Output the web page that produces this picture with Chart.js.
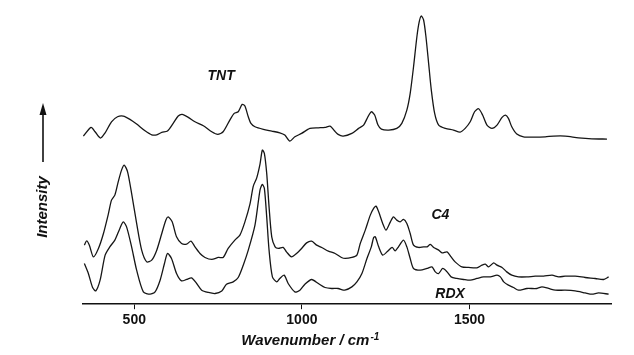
<!DOCTYPE html>
<html>
<head>
<meta charset="utf-8">
<script src="https://cdn.jsdelivr.net/npm/chart.js@4.4.1/dist/chart.umd.min.js"></script>
<style>
  html, body { margin: 0; padding: 0; background: #fff; }
  #c { display: block; }
</style>
</head>
<body>
<canvas id="c" width="634" height="355"></canvas>
<script>
// ---- data (wavenumber in cm-1, intensity in arbitrary offset units) ----
const tntWavenumber = [348,371,383,399,413,432,450,467,487,507,532,552,567,582,599,616,631,643,661,681,706,731,749,765,785,798,810,822,830,840,848,860,885,910,934,949,964,979,999,1024,1049,1069,1084,1097,1108,1123,
  1149,1169,1184,1197,1207,1217,1227,1237,1259,1283,1298,1313,1323,1333,1343,1350,1356,1363,1370,1378,1386,1396,1408,1428,1452,1472,1487,1502,1515,1527,1539,1552,1567,1582,1597,1607,1616,1626,1641,1661,1696,1726,1751,1785,1825,1865,1910];
const tntIntensity = [168,176.7,172.3,166,171.3,182.3,187.3,188,184.7,180,173.3,169.3,169.3,171.7,173,180.7,188,189.7,186.7,182.3,178.3,172.3,169.7,172.3,184,190.7,192.3,199.7,198,187.3,180.7,177.3,174.7,173,171.3,169,163,167.3,170.7,175.7,176.3,176.7,178,173.3,169.7,168,
  170.7,175.7,179,187.3,192.3,189,179,175,174,175.7,180.7,194,210.7,237.3,267.3,282.3,288,284,267.3,240.7,214,190.7,179,175.7,174,172,175.7,182.3,192.3,195.3,189,179,175.7,179,186.7,189,185.7,177.3,170,167.3,167,167.3,168,168,166.3,165.3,165];

const c4Wavenumber = [351,358,366,378,393,408,423,432,442,452,462,470,480,492,507,522,537,552,567,582,594,601,613,626,641,656,669,681,696,711,731,751,765,780,800,815,830,845,855,865,875,882,888,895,902,910,920,930,944,954,969,984,999,1014,1029,1044,1059,1079,1099,1118,
  1129,1149,1164,1174,1189,1204,1214,1221,1229,1241,1251,1264,1273,1283,1293,1303,1313,1323,1333,1348,1363,1373,1383,1393,1408,1418,1433,1445,1457,1477,1497,1522,1537,1547,1557,1572,1582,1597,1611,1626,1646,1671,1696,1721,1746,1766,1785,1815,1845,1875,1900,1915];
const c4Intensity = [59,63.3,59,47.3,55.7,70.7,90.7,104,109,122.3,134,139,132.3,110.7,80.7,54,42.3,44,54,70.7,84,87.3,82.3,67.3,60.7,60,63,57.3,50.7,46.7,44.7,46.7,46.7,55.7,64,69,82.3,100,118,126,140,154,150.7,130.7,97.3,67.3,57.3,55.7,56.7,52.3,47.3,50.7,55.7,61.3,63,59,56.7,53,50.7,46.7,
  45.7,46.7,49,60.7,74,89,95.7,98,92.3,80.7,74,82.3,87.3,84,82.3,84.7,80.7,70.7,59,56.7,57.3,57.3,59.7,56.7,54,51.3,52.3,47.3,42.3,37.3,36.7,36.3,39,40,37.3,41.3,39,36.7,32.3,29,27.3,27.3,28,28,29,27.3,28,28,26.7,25.7,24.7,27.3];

const rdxWavenumber = [351,363,375,385,398,413,427,442,457,467,477,492,507,527,547,562,577,590,599,611,626,641,656,671,686,701,721,741,761,775,795,810,825,840,860,875,882,888,895,902,912,925,934,947,959,979,994,1009,1029,1049,1069,1089,1108,1128,
  1149,1164,1179,1194,1207,1214,1219,1229,1241,1254,1269,1278,1288,1303,1313,1323,1333,1353,1373,1388,1398,1408,1420,1433,1445,1462,1482,1502,1522,1542,1562,1582,1592,1602,1616,1631,1646,1671,1701,1716,1736,1756,1785,1815,1845,1865,1885,1915];
const rdxIntensity = [40.7,30.7,17.3,13.3,24,49,57.3,64,75.7,82.3,77.3,57.3,34,12.3,10,12.3,24,40.7,50.7,45.7,30.7,23.3,24.7,26.3,20.7,14,11.7,10.7,13.3,20,22.3,26.7,39,54,79,114,119.7,115.7,87.3,54,27.3,22.3,25.7,29,20.7,12.3,14,20,24.7,20.7,16.7,15.7,15.7,14,
  17.3,22.3,30.7,45.7,57.3,66.7,67.3,57.3,49,52.3,56.7,53.3,57.3,64,57.3,45.7,35.7,34,35.7,37.3,32.3,30.7,35.7,32.3,27.3,25.7,24.7,24,25.7,27.3,27.3,29,27.3,22.3,19,16.7,14,15.7,15.7,17.3,15.7,14,14,13.3,11.3,10,11.3,10];

const xTickValues = [500, 1000, 1500];
const seriesNames = ['TNT', 'C4', 'RDX'];
// label anchor points in data units (wavenumber, intensity)
const labelWavenumber = [759, 1413, 1442];
const labelIntensity = [228, 89, 10];

const xAxisTitle = 'Wavenumber / cm';
const xAxisTitleSup = '-1';
const yAxisTitle = 'Intensity';

function pairs(xs, ys) { return xs.map((x, i) => ({ x: x, y: ys[i] })); }

const lineStyle = { borderColor: '#161616', borderWidth: 1.3, pointRadius: 0, tension: 0.25, fill: false };

const decorPlugin = {
  id: 'decor',
  afterDraw(chart) {
    const ctx = chart.ctx;
    const xs = chart.scales.x, ys = chart.scales.y;
    ctx.save();
    ctx.fillStyle = '#111';
    // series labels
    ctx.font = 'italic bold 14px "Liberation Sans", Arial, sans-serif';
    ctx.textAlign = 'center';
    ctx.textBaseline = 'middle';
    seriesNames.forEach((n, i) => {
      ctx.fillText(n, xs.getPixelForValue(labelWavenumber[i]), ys.getPixelForValue(labelIntensity[i]));
    });
    // x axis title with superscript
    const ca = chart.chartArea;
    ctx.font = 'italic bold 15px "Liberation Sans", Arial, sans-serif';
    const w1 = ctx.measureText(xAxisTitle).width;
    ctx.font = 'italic bold 10px "Liberation Sans", Arial, sans-serif';
    const w2 = ctx.measureText(xAxisTitleSup).width;
    const cx = xs.getPixelForValue(1025);
    const ty = ca.bottom + 37;
    const sx = cx - (w1 + w2 + 1) / 2;
    ctx.textAlign = 'left';
    ctx.font = 'italic bold 15px "Liberation Sans", Arial, sans-serif';
    ctx.fillText(xAxisTitle, sx, ty);
    ctx.font = 'italic bold 10px "Liberation Sans", Arial, sans-serif';
    ctx.fillText(xAxisTitleSup, sx + w1 + 1, ty - 4);
    // y axis: arrow and rotated label
    const ax = ca.left - 40;
    ctx.strokeStyle = '#111';
    ctx.lineWidth = 1.6;
    ctx.beginPath();
    ctx.moveTo(ax, 162);
    ctx.lineTo(ax, 112);
    ctx.stroke();
    ctx.beginPath();
    ctx.moveTo(ax, 103);
    ctx.lineTo(ax - 3.5, 115);
    ctx.lineTo(ax + 3.5, 115);
    ctx.closePath();
    ctx.fill();
    ctx.translate(ax, 207);
    ctx.rotate(-Math.PI / 2);
    ctx.textAlign = 'center';
    ctx.font = 'italic bold 15px "Liberation Sans", Arial, sans-serif';
    ctx.fillText(yAxisTitle, 0, 0);
    ctx.restore();
  }
};

new Chart(document.getElementById('c'), {
  type: 'line',
  data: {
    datasets: [
      Object.assign({ label: 'TNT', data: pairs(tntWavenumber, tntIntensity) }, lineStyle),
      Object.assign({ label: 'C4', data: pairs(c4Wavenumber, c4Intensity) }, lineStyle),
      Object.assign({ label: 'RDX', data: pairs(rdxWavenumber, rdxIntensity) }, lineStyle)
    ]
  },
  options: {
    responsive: false,
    devicePixelRatio: 1,
    animation: false,
    events: [],
    layout: { padding: { left: 83, right: 23, top: 4, bottom: 23 } },
    plugins: { legend: { display: false }, tooltip: { enabled: false } },
    scales: {
      x: {
        type: 'linear',
        min: 347,
        max: 1922,
        afterBuildTicks(scale) { scale.ticks = xTickValues.map(v => ({ value: v })); },
        grid: { display: true, drawOnChartArea: false, drawTicks: true, tickLength: 5, color: '#111', lineWidth: 1 },
        border: { display: true, color: '#111', width: 1.5 },
        ticks: { color: '#111', padding: 3, maxRotation: 0, callback: v => String(v), font: { family: '"Liberation Sans", Arial, sans-serif', size: 14, weight: 'bold' } }
      },
      y: { display: false, min: 0, max: 300 }
    }
  },
  plugins: [decorPlugin]
});
</script>
</body>
</html>
